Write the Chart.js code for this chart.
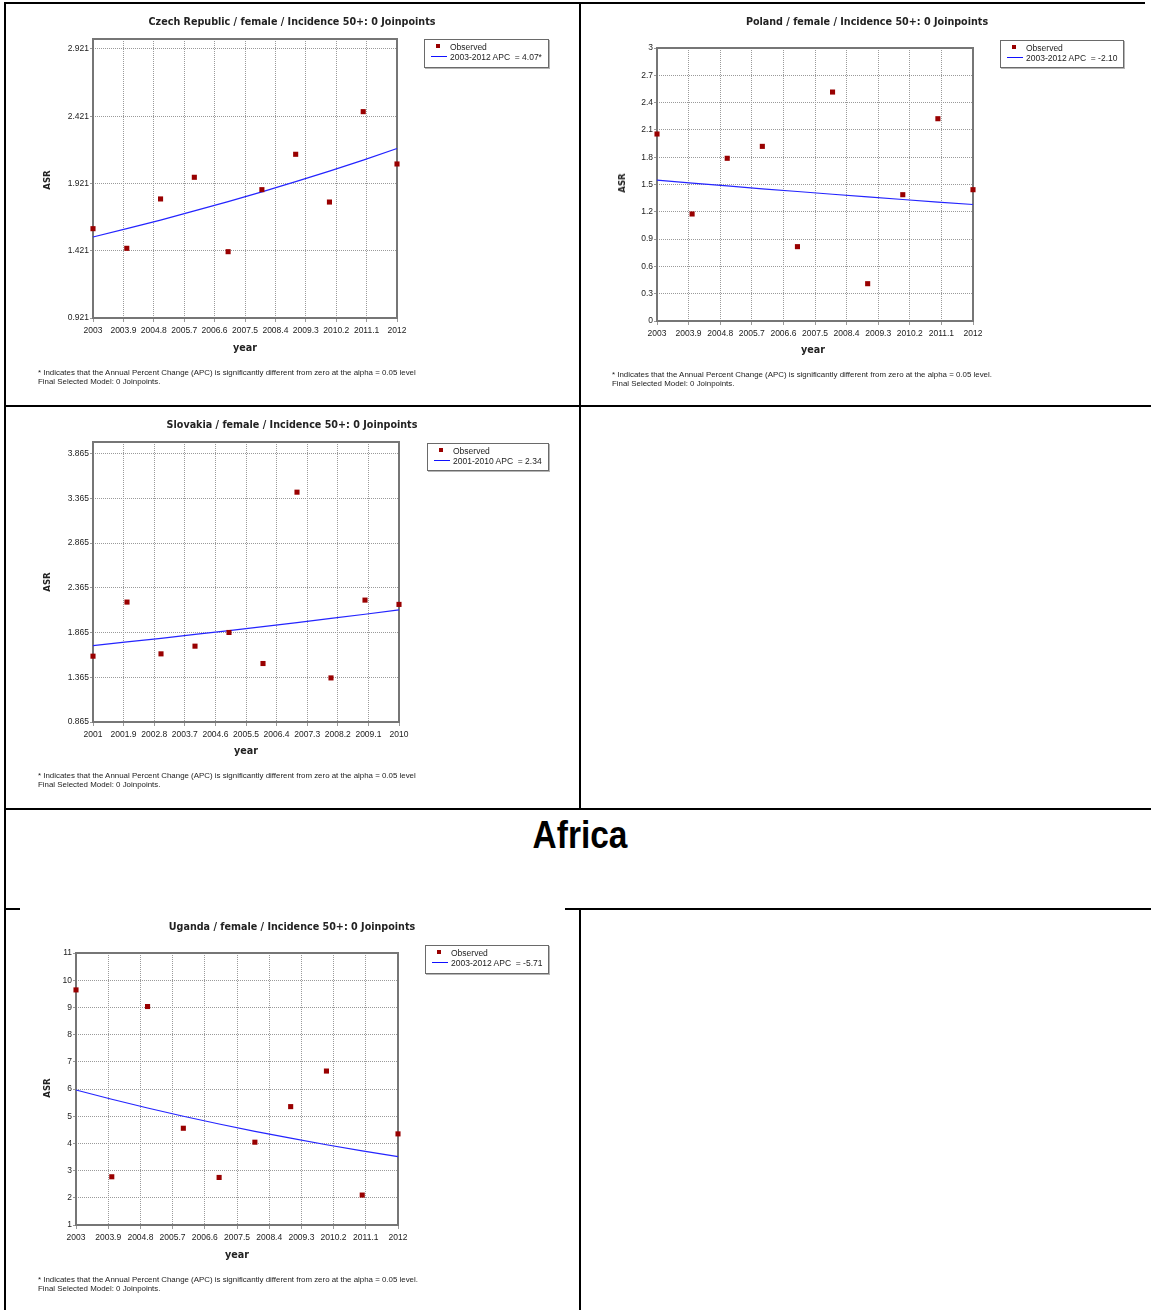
<!DOCTYPE html>
<html>
<head>
<meta charset="utf-8">
<script src="https://cdn.jsdelivr.net/npm/chart.js@4.4.1/dist/chart.umd.min.js"></script>
<style>
  html, body { margin:0; padding:0; background:#fff; }
  body { width:1151px; height:1310px; position:relative; overflow:hidden; }
  .rule { position:absolute; background:#000; }
  canvas { position:absolute; }
  .title { position:absolute; transform:translate(-50%,-50%); font-family:"DejaVu Sans", Verdana, sans-serif; font-weight:bold; font-size:9.6px; color:#222; white-space:nowrap; }
  .axt { position:absolute; transform:translate(-50%,-50%); font-family:"DejaVu Sans", Verdana, sans-serif; font-weight:bold; font-size:9.6px; color:#222; white-space:nowrap; }
  .asr { position:absolute; transform:translate(-50%,-50%) rotate(-90deg); font-family:"DejaVu Sans", Verdana, sans-serif; font-weight:bold; font-size:8.6px; color:#222; white-space:nowrap; }
  .foot { position:absolute; font-family:"Liberation Sans", Arial, sans-serif; font-size:7.9px; line-height:9px; color:#222; white-space:nowrap; }
  .legend { position:absolute; border:1px solid #6a6a6a; box-shadow:1px 1px 0 #b5b5b5; background:#fff; box-sizing:border-box; }
  .legend .sq { position:absolute; width:4px; height:4px; background:#990000; }
  .legend .ln { position:absolute; width:16px; height:0; border-top:1px solid #1010ff; }
  .legend .t { position:absolute; font-family:"Liberation Sans", Arial, sans-serif; font-size:8.5px; line-height:10px; color:#222; white-space:pre; }
  .region { position:absolute; transform:translate(-50%,-50%) scaleX(0.88); font-family:"Liberation Sans", Arial, sans-serif; font-weight:bold; font-size:38px; color:#000; white-space:nowrap; }
</style>
</head>
<body>
<!-- table rules -->
<div class="rule" style="left:4px;top:2px;width:1141px;height:2px"></div>
<div class="rule" style="left:4px;top:2px;width:2px;height:1308px"></div>
<div class="rule" style="left:579px;top:2px;width:2px;height:807px"></div>
<div class="rule" style="left:4px;top:405px;width:1147px;height:2px"></div>
<div class="rule" style="left:4px;top:808px;width:1147px;height:2px"></div>
<div class="rule" style="left:4px;top:908px;width:16px;height:2px"></div>
<div class="rule" style="left:565px;top:908px;width:586px;height:2px"></div>
<div class="rule" style="left:579px;top:908px;width:2px;height:402px"></div>

<canvas id="cz" width="573" height="400" style="left:6px;top:4px"></canvas>
<canvas id="pl" width="569" height="400" style="left:582px;top:4px"></canvas>
<canvas id="sk" width="573" height="400" style="left:6px;top:407px"></canvas>
<canvas id="ug" width="573" height="400" style="left:6px;top:910px"></canvas>

<div class="region" style="left:580px;top:835px">Africa</div>

<script>
// ---------------- data ----------------
const years2003 = [2003, 2004, 2005, 2006, 2007, 2008, 2009, 2010, 2011, 2012];
const years2001 = [2001, 2002, 2003, 2004, 2005, 2006, 2007, 2008, 2009, 2010];
const xTicks2003 = ['2003','2003.9','2004.8','2005.7','2006.6','2007.5','2008.4','2009.3','2010.2','2011.1','2012'];
const xTicks2001 = ['2001','2001.9','2002.8','2003.7','2004.6','2005.5','2006.4','2007.3','2008.2','2009.1','2010'];

const czechObserved = [1.585, 1.439, 1.806, 1.967, 1.414, 1.875, 2.138, 1.783, 2.455, 2.066];
const czechFitted   = [1.523, 1.585, 1.649, 1.717, 1.786, 1.859, 1.935, 2.013, 2.095, 2.181];
const czechYTicks   = ['0.921','1.421','1.921','2.421','2.921'];
const czechYMax     = 2.995;

const polandObserved = [2.055, 1.176, 1.788, 1.919, 0.817, 2.516, 0.410, 1.388, 2.223, 1.443];
const polandFitted   = [1.549, 1.516, 1.484, 1.453, 1.423, 1.393, 1.364, 1.335, 1.307, 1.280];
const polandYTicks   = ['0','0.3','0.6','0.9','1.2','1.5','1.8','2.1','2.4','2.7','3'];
const polandYMax     = 3;

const slovakiaObserved = [1.601, 2.206, 1.627, 1.713, 1.866, 1.519, 3.435, 1.358, 2.228, 2.180];
const slovakiaFitted   = [1.720, 1.760, 1.801, 1.844, 1.887, 1.931, 1.976, 2.023, 2.070, 2.118];
const slovakiaYTicks   = ['0.865','1.365','1.865','2.365','2.865','3.365','3.865'];
const slovakiaYMax     = 3.996;

const ugandaObserved = [9.643, 2.773, 9.032, 4.557, 2.748, 4.044, 5.352, 6.660, 2.100, 4.350];
const ugandaFitted   = [5.963, 5.623, 5.302, 4.999, 4.714, 4.444, 4.191, 3.951, 3.726, 3.513];
const ugandaYTicks   = ['1','2','3','4','5','6','7','8','9','10','11'];
const ugandaYMax     = 11;

const titles = {
  cz: 'Czech Republic / female / Incidence 50+: 0 Joinpoints',
  pl: 'Poland / female / Incidence 50+: 0 Joinpoints',
  sk: 'Slovakia / female / Incidence 50+: 0 Joinpoints',
  ug: 'Uganda / female / Incidence 50+: 0 Joinpoints'
};
const legendLabels = {
  cz: '2003-2012 APC  = 4.07*',
  pl: '2003-2012 APC  = -2.10',
  sk: '2001-2010 APC  = 2.34',
  ug: '2003-2012 APC  = -5.71'
};
const footLine1 = '* Indicates that the Annual Percent Change (APC) is significantly different from zero at the alpha = 0.05 level';
const footLine2 = 'Final Selected Model: 0 Joinpoints.';

// ---------------- drawing ----------------
const plotFrame = {
  id: 'plotFrame',
  beforeDatasetsDraw(chart) {
    const a = chart.chartArea, c = chart.ctx;
    c.save();
    c.setLineDash([]);
    c.strokeStyle = '#767676';
    c.lineWidth = 2;
    c.strokeRect(a.left, a.top, a.right - a.left, a.bottom - a.top);
    c.restore();
  }
};

function buildChart(id, o) {
  const xVals = o.xTicks.map(Number);
  const yVals = o.yTicks.map(Number);
  const tickFont = { family: '"Liberation Sans", Arial, sans-serif', size: 8.5 };
  return new Chart(document.getElementById(id), {
    type: 'scatter',
    data: {
      datasets: [
        { label: 'Observed', data: o.years.map((x, i) => ({ x: x, y: o.observed[i] })),
          pointStyle: 'rect', pointRadius: 3.6, backgroundColor: '#990000', borderWidth: 0,
          clip: false, order: 0 },
        { label: 'Fit', data: o.years.map((x, i) => ({ x: x, y: o.fitted[i] })),
          showLine: true, pointRadius: 0, borderColor: '#2424ff', borderWidth: 1.2,
          clip: false, order: 1 }
      ]
    },
    options: {
      responsive: false, animation: false, devicePixelRatio: 1, events: [],
      layout: { padding: { left: 0, top: o.padTop, right: o.padRight, bottom: 0 } },
      plugins: { legend: { display: false }, title: { display: false }, tooltip: { enabled: false } },
      scales: {
        x: {
          type: 'linear', min: xVals[0], max: xVals[xVals.length - 1],
          afterBuildTicks: s => { s.ticks = xVals.map(v => ({ value: v })); },
          afterFit: s => { s.height = o.xAxisH; },
          ticks: { autoSkip: false, maxRotation: 0, minRotation: 0, padding: 3.5, font: tickFont, color: '#222',
                   callback: (v, i) => o.xTicks[i] },
          grid: { color: '#9a9a9a', lineWidth: 1, tickLength: 4, drawTicks: true },
          border: { display: false, dash: [1, 1] }
        },
        y: {
          type: 'linear', min: yVals[0], max: o.yMax,
          afterBuildTicks: s => { s.ticks = yVals.map(v => ({ value: v })); },
          afterFit: s => { s.width = o.yAxisW; },
          ticks: { autoSkip: false, padding: 1, font: tickFont, color: '#222',
                   callback: (v, i) => o.yTicks[i] },
          grid: { color: '#9a9a9a', lineWidth: 1, tickLength: 3, drawTicks: true },
          border: { display: false, dash: [1, 1] }
        }
      }
    },
    plugins: [plotFrame]
  });
}

function addDiv(cls, text, left, top) {
  const d = document.createElement('div');
  d.className = cls;
  d.textContent = text;
  d.style.left = left + 'px';
  d.style.top = top + 'px';
  document.body.appendChild(d);
  return d;
}

function addLegend(left, top, w, h, label) {
  const d = document.createElement('div');
  d.className = 'legend';
  d.style.left = left + 'px'; d.style.top = top + 'px';
  d.style.width = w + 'px'; d.style.height = h + 'px';
  const sq = document.createElement('span'); sq.className = 'sq';
  sq.style.left = '11px'; sq.style.top = '4px';
  const t1 = document.createElement('span'); t1.className = 't';
  t1.style.left = '25px'; t1.style.top = '2px'; t1.textContent = 'Observed';
  const ln = document.createElement('span'); ln.className = 'ln';
  ln.style.left = '6px'; ln.style.top = '16px';
  const t2 = document.createElement('span'); t2.className = 't';
  t2.style.left = '25px'; t2.style.top = '12px'; t2.textContent = label;
  d.append(sq, t1, ln, t2);
  document.body.appendChild(d);
}

function decorate(key, g) {
  addDiv('title', titles[key], g.titleX, g.titleY);
  addDiv('axt', 'year', g.yearX, g.yearY);
  addDiv('asr', 'ASR', g.asrX, g.asrY);
  const f = addDiv('foot', '', g.footX, g.footY);
  f.textContent = g.footEnd ? footLine1 + '.' : footLine1;
  f.appendChild(document.createElement('br'));
  f.appendChild(document.createTextNode(footLine2));
  addLegend(g.legX, g.legY, g.legW, g.legH, legendLabels[key]);
}

buildChart('cz', { years: years2003, observed: czechObserved, fitted: czechFitted,
  xTicks: xTicks2003, yTicks: czechYTicks, yMax: czechYMax,
  padTop: 35, padRight: 182, yAxisW: 87, xAxisH: 86 });
buildChart('pl', { years: years2003, observed: polandObserved, fitted: polandFitted,
  xTicks: xTicks2003, yTicks: polandYTicks, yMax: polandYMax,
  padTop: 44, padRight: 178, yAxisW: 75, xAxisH: 83 });
buildChart('sk', { years: years2001, observed: slovakiaObserved, fitted: slovakiaFitted,
  xTicks: xTicks2001, yTicks: slovakiaYTicks, yMax: slovakiaYMax,
  padTop: 35, padRight: 180, yAxisW: 87, xAxisH: 85 });
buildChart('ug', { years: years2003, observed: ugandaObserved, fitted: ugandaFitted,
  xTicks: xTicks2003, yTicks: ugandaYTicks, yMax: ugandaYMax,
  padTop: 43, padRight: 181, yAxisW: 70, xAxisH: 85 });

decorate('cz', { titleX: 292, titleY: 21, yearX: 245, yearY: 347, asrX: 47, asrY: 180,
  footX: 38, footY: 368, footEnd: false, legX: 424, legY: 39, legW: 125, legH: 29 });
decorate('pl', { titleX: 867, titleY: 21, yearX: 813, yearY: 349, asrX: 622, asrY: 183,
  footX: 612, footY: 370, footEnd: true, legX: 1000, legY: 40, legW: 124, legH: 28 });
decorate('sk', { titleX: 292, titleY: 424, yearX: 246, yearY: 750, asrX: 47, asrY: 582,
  footX: 38, footY: 771, footEnd: false, legX: 427, legY: 443, legW: 122, legH: 28 });
decorate('ug', { titleX: 292, titleY: 926, yearX: 237, yearY: 1254, asrX: 47, asrY: 1088,
  footX: 38, footY: 1275, footEnd: true, legX: 425, legY: 945, legW: 124, legH: 29 });
</script>
</body>
</html>
